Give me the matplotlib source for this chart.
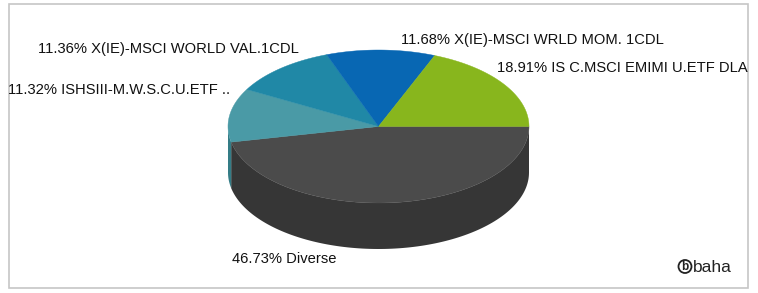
import numpy as np
import matplotlib
matplotlib.use('Agg')
import matplotlib.pyplot as plt
from matplotlib.patches import Polygon, Rectangle, Circle

# daten (reihenfolge im uhrzeigersinn ab 3 uhr)
names = ['Diverse', 'ISHSIII-M.W.S.C.U.ETF ..', 'X(IE)-MSCI WORLD VAL.1CDL',
         'X(IE)-MSCI WRLD MOM. 1CDL', 'IS C.MSCI EMIMI U.ETF DLA']
shares = [46.73, 11.32, 11.36, 11.68, 18.91]
top_cols = ['#4b4b4b', '#4a9aa6', '#2088a6', '#0867b3', '#88b61d']
side_cols = ['#363636', '#347c86', '#176e87', '#05518f', '#6c9317']
label_pos = [(232, 259, 'left'), (8, 90.5, 'left'), (38, 48.5, 'left'),
             (401, 40, 'left'), (748, 68, 'right')]

W, H = 758, 293
cx, cy, ra, rb, depth = 378.5, 126.5, 150.5, 76.5, 46

fig = plt.figure(figsize=(W / 100, H / 100), dpi=100)
ax = fig.add_axes([0, 0, 1, 1])
ax.set_xlim(0, W)
ax.set_ylim(H, 0)
ax.axis('off')

ax.add_patch(Rectangle((8.5, 3.5), 739.5, 284.5, fill=False, ec='#c6c6c6', lw=1.2))

ends = np.cumsum(shares) / sum(shares) * 360
starts = np.concatenate([[0], ends[:-1]])

def arc(t1, t2, dy=0):
    t = np.radians(np.linspace(t1, t2, 120))
    return np.column_stack([cx + ra * np.cos(t), cy + dy + rb * np.sin(t)])

# seitenflaechen (nur vorderer halbkreis sichtbar)
for s, e, c in zip(starts, ends, side_cols):
    a1, a2 = max(s, 0), min(e, 180)
    if a2 <= a1:
        continue
    pts = np.vstack([arc(a1, a2), arc(a1, a2, depth)[::-1]])
    ax.add_patch(Polygon(pts, closed=True, fc=c, ec='none'))

# deckflaeche
for s, e, c in zip(starts, ends, top_cols):
    pts = np.vstack([[cx, cy], arc(s, e)])
    ax.add_patch(Polygon(pts, closed=True, fc=c, ec=c, lw=0.3))

for n, v, (x, y, ha) in zip(names, shares, label_pos):
    ax.text(x, y, f'{v:.2f}% {n}', ha=ha, va='center', fontsize=10.6,
            family='Liberation Sans', color='#111111')

# logo
ax.add_patch(Circle((685, 266.5), 6.5, fill=False, ec='#222222', lw=1.3))
ax.text(685, 267, 'b', ha='center', va='center', fontsize=8.5, weight='bold',
        family='Liberation Sans', color='#222222')
ax.text(692.5, 267, 'baha', ha='left', va='center', fontsize=12.5,
        family='Liberation Sans', color='#222222')

fig.savefig('out.png', dpi=100)
